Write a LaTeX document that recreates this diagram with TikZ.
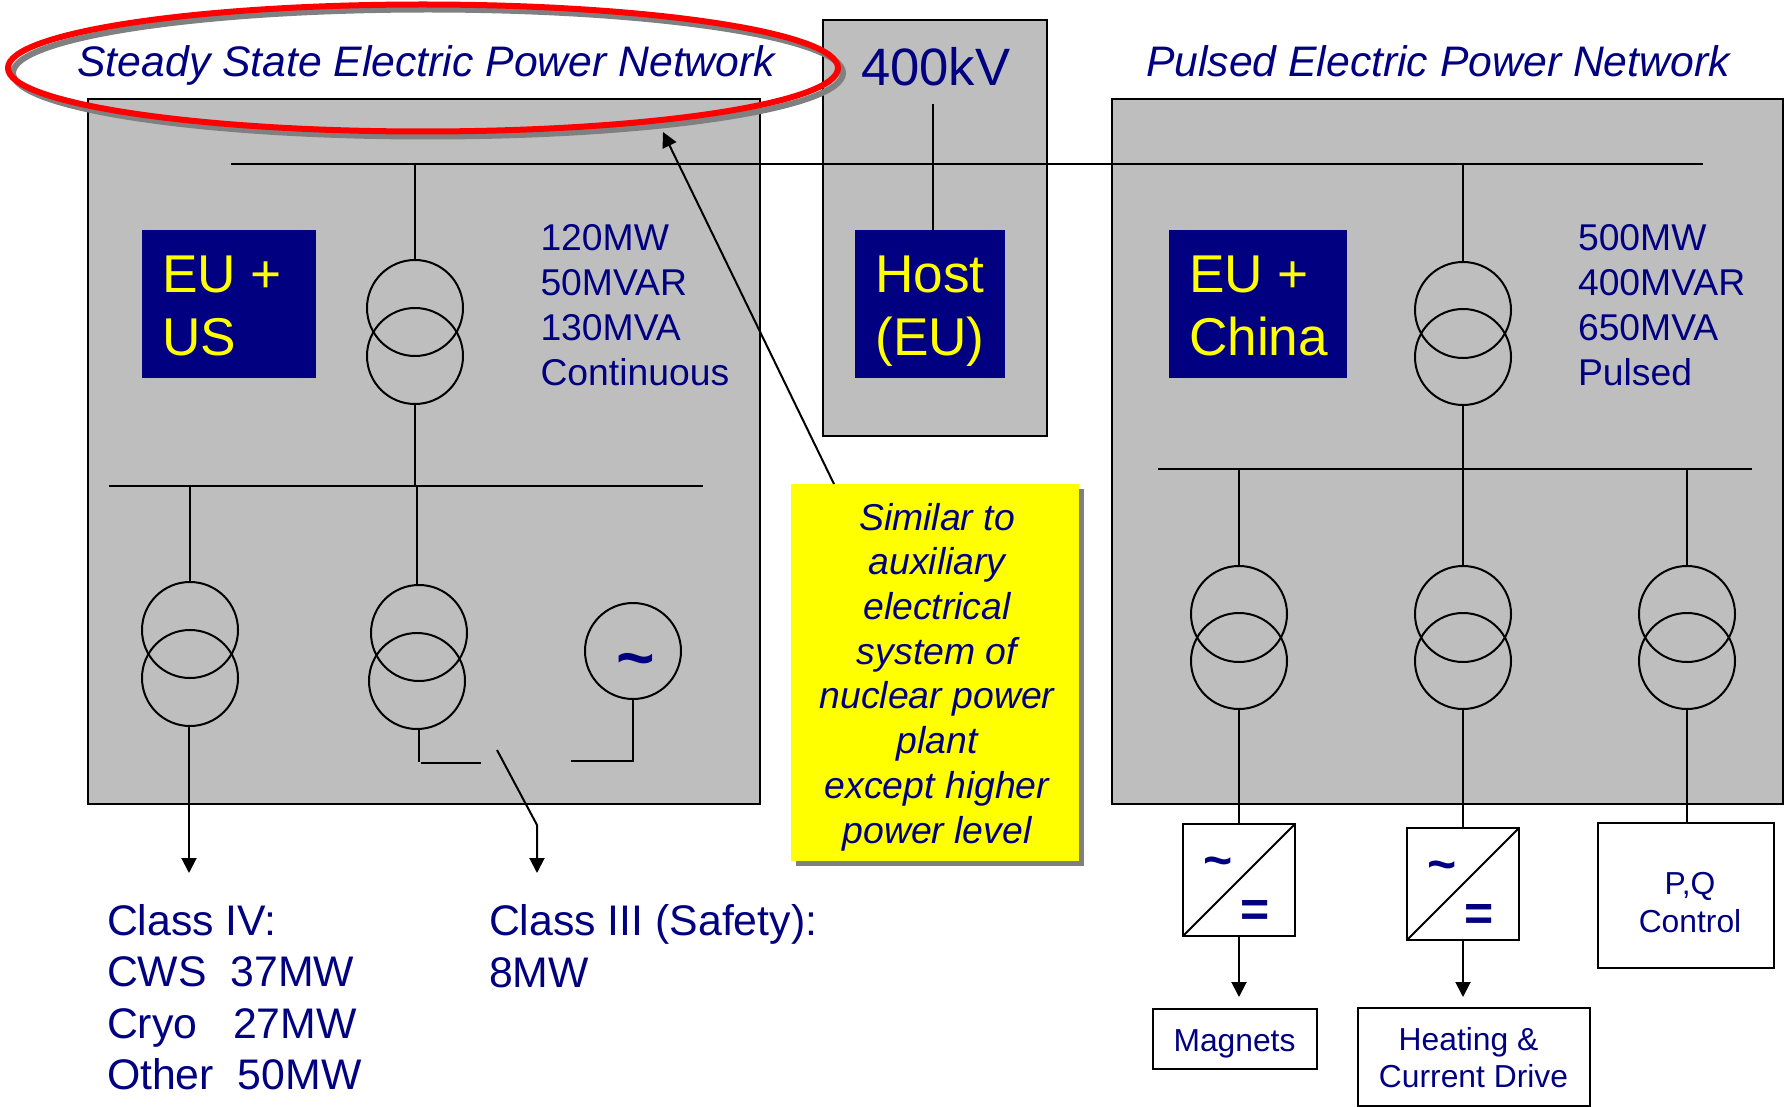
\documentclass[tikz,border=0pt]{standalone}
\usepackage{fontspec}
\setmainfont{Liberation Sans}
\usetikzlibrary{shapes.geometric,arrows.meta}
\definecolor{navyc}{HTML}{000080}
\definecolor{panelc}{HTML}{BEBEBE}
\definecolor{shadowc}{HTML}{808080}
\definecolor{yelc}{HTML}{FFFF00}
\tikzset{
  every node/.style={inner sep=0pt,outer sep=0pt},
  lin/.style={line width=1pt,black},
  bus/.style={line width=1.1pt,black},
  arr/.style={lin,-{Triangle[width=7.5pt,length=7.5pt]}},
  panel/.style={draw=black,line width=1pt,fill=panelc},
  whitebox/.style={draw=black,line width=1pt,fill=white},
  smalltext/.style={text=navyc,anchor=base,align=center,font=\fontsize{15.9}{18.6}\selectfont},
  bluebox/.style={fill=navyc},
  bluetext/.style={text=yelc,anchor=base west,align=left,font=\fontsize{26.6}{31.9}\selectfont},
  ring/.style={circle,draw=black,line width=1pt,minimum size=48pt},
  navy/.style={text=navyc},
  stats/.style={navy,anchor=base west,align=left,font=\fontsize{18.65}{22.5}\selectfont},
  loads/.style={navy,anchor=base west,align=left,font=\fontsize{21.4}{25.7}\selectfont},
  titl/.style={navy,anchor=base west,font=\fontsize{21.35}{25}\selectfont\itshape},
  symb/.style={navy,font=\bfseries\fontsize{25}{27}\selectfont},
}
\newcommand\boxat[7]{\node[#2,minimum width={(#5-#3)*0.5pt},minimum height={(#6-#4)*0.5pt}] (#1) at ({(#3+#5)/2},{(#4+#6)/2}) {#7};}
\newcommand\trafo[5]{\node[ring] (#1-a) at (#2,#3) {};\node[ring] (#1-b) at (#4,#5) {};}
\begin{document}
\begin{tikzpicture}[x=0.5pt,y=-0.5pt]
\useasboundingbox (0,0) rectangle (1784,1107);
% panels
\boxat{leftp}{panel}{88}{99}{760}{804}{}
\boxat{midp}{panel}{823}{20}{1047}{436}{}
\boxat{rightp}{panel}{1112}{99}{1783}{804}{}
% buses
\coordinate (topw) at (231,164);
\coordinate (tope) at (1703,164);
\coordinate (lbw) at (109,486);
\coordinate (lbe) at (703,486);
\coordinate (rbw) at (1158,469);
\coordinate (rbe) at (1752,469);
\draw[bus] (topw) -- (tope);
\draw[bus] (lbw) -- (lbe);
\draw[bus] (rbw) -- (rbe);
% blue boxes
\boxat{eu}{bluebox}{142}{230}{316}{378}{}
\boxat{host}{bluebox}{854.5}{230}{1005}{378}{}
\boxat{china}{bluebox}{1168.5}{230}{1347}{378}{}
\node[bluetext] (eutext) at (162,356) {EU +\\US};
\node[bluetext,anchor=base,align=center] (hosttext) at (930,356) {Host\\(EU)};
\node[bluetext] (chinatext) at (1189,356) {EU +\\China};
% transformers
\trafo{ta}{415}{308}{415}{356}
\trafo{tb}{190}{630}{190}{678}
\trafo{tc}{419}{633}{417}{681}
\trafo{td}{1463}{310}{1463}{357}
\trafo{te}{1239}{614}{1239}{661}
\trafo{tf}{1463}{614}{1463}{661}
\trafo{tg}{1687}{614}{1687}{661}
\node[ring] (gen) at (633,651) {};
\node[navy,font=\bfseries\fontsize{33}{36}\selectfont] (gensym) at (636,667) {\textasciitilde};
% connectors on left
\draw[lin] (ta-a.north) -- (ta-a.north |- topw);
\draw[lin] (ta-b.south) -- (ta-b.south |- lbw);
\draw[lin] (tb-a.north) -- (tb-a.north |- lbw);
\coordinate (cla4) at (189,873);
\draw[arr] ([xshift=-.5pt]tb-b.south) -- (cla4);
\draw[lin] ([xshift=-1pt]tc-a.north) -- ([xshift=-1pt]tc-a.north |- lbw);
\coordinate (tcd) at (419,762);
\coordinate (sw1) at (421,763);
\coordinate (sw2) at (481,763);
\coordinate (sw3) at (497,750);
\coordinate (sw4) at (537,825);
\coordinate (cla3) at (537,873);
\coordinate (gen1) at (571,761);
\draw[lin] ([xshift=1pt]tc-b.south) -- (tcd);
\draw[lin] (sw1) -- (sw2);
\draw[lin] (gen.south) -- (gen.south |- gen1) -- (gen1);
\draw[arr] (sw3) -- (sw4) -- (cla3);
% connectors on right
\draw[lin] (td-a.north) -- (td-a.north |- topw);
\draw[lin] (td-b.south) -- (td-b.south |- rbw);
\draw[lin] (te-a.north) -- (te-a.north |- rbw);
\draw[lin] (tf-a.north) -- (tf-a.north |- rbw);
\draw[lin] (tg-a.north) -- (tg-a.north |- rbw);
\coordinate (kv) at (933,104);
\draw[lin] (kv) -- (kv |- host.north);
% converters
\boxat{cv1}{whitebox}{1183}{824}{1295}{936}{}
\boxat{cv2}{whitebox}{1407}{828}{1519}{940}{}
\draw[lin] (cv1.south west) -- (cv1.north east);
\draw[lin] (cv2.south west) -- (cv2.north east);
\node[symb] (cv1ac) at (1218,867) {\textasciitilde};
\node[symb] (cv1dc) at (1255,913) {=};
\node[symb] (cv2ac) at (1442,871) {\textasciitilde};
\node[symb] (cv2dc) at (1479,917) {=};
\boxat{pq}{whitebox}{1597.5}{823}{1774}{968}{}
\boxat{mag}{whitebox}{1153}{1009}{1317}{1069}{}
\boxat{heat}{whitebox}{1358}{1008}{1590}{1106}{}
\node[smalltext] (pqtext) at (1690,932) {P,Q\\Control};
\node[smalltext] (magtext) at (1234.5,1051) {Magnets};
\node[smalltext] (heattext) at (1468.5,1087.5) {Heating \&\\\hspace*{5pt}Current Drive};
\coordinate (mg) at (1239,997);
\coordinate (ht) at (1463,997);
\draw[lin] (te-b.south) -- (te-b.south |- cv1.north);
\draw[lin] (tf-b.south) -- (tf-b.south |- cv2.north);
\draw[lin] (tg-b.south) -- (tg-b.south |- pq.north);
\draw[arr] (cv1.south) -- (mg);
\draw[arr] (cv2.south) -- (ht);
% note
\coordinate (tip) at (663,132);
\boxat{notesh}{fill=shadowc}{796}{489}{1084}{866}{}
\boxat{note}{fill=yelc}{791}{484}{1079}{861}{}
\node[navy,anchor=base,align=center,font=\fontsize{18.7}{22.35}\selectfont\itshape] (notetext) at (937,843) {Similar to\\auxiliary\\electrical\\system of\\nuclear power\\plant\\except higher\\power level};
\draw[arr] ([xshift=-50.5pt]note.north) -- (tip);
% ellipse
\node[ellipse,draw=shadowc,line width=3pt,minimum width=415pt,minimum height=63.5pt] (ovals) at (428,73) {};
\node[ellipse,draw=red,line width=3pt,minimum width=415pt,minimum height=63.5pt] (oval) at (423,68) {};
% text
\node[titl] (t1) at (77.5,77) {Steady State Electric Power Network};
\node[titl] (t2) at (1146,77) {Pulsed Electric Power Network};
\node[navy,anchor=base west,font=\fontsize{26.3}{30}\selectfont] (t3) at (861,85.5) {400kV};
\node[stats] (s1) at (540.5,386) {120MW\\50MVAR\\130MVA\\Continuous};
\node[stats] (s2) at (1578,386) {500MW\\400MVAR\\650MVA\\Pulsed};
\node[loads] (l1) at (107,1089.5) {Class IV:\\CWS\ \ 37MW\\Cryo\ \ \ 27MW\\Other\ \ 50MW};
\node[loads] (l2) at (489,987) {Class III (Safety):\\8MW};
\end{tikzpicture}
\end{document}
